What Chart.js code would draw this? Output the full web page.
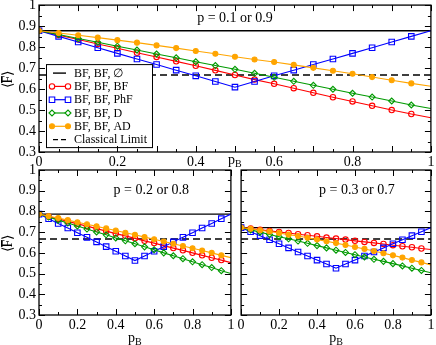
<!DOCTYPE html>
<html><head><meta charset="utf-8">
<script src="https://cdn.jsdelivr.net/npm/chart.js@4.4.1/dist/chart.umd.min.js"></script>
<style>
html,body{margin:0;padding:0;background:#fff;width:436px;height:345px;overflow:hidden}
.box{position:absolute}
</style></head><body>
<div class="box" style="left:0;top:0;width:436px;height:172px"><canvas id="c1"></canvas></div>
<div class="box" style="left:0;top:155px;width:236px;height:190px"><canvas id="c2"></canvas></div>
<div class="box" style="left:236px;top:155px;width:200px;height:190px"><canvas id="c3"></canvas></div>
<script>
// ---------- data ----------
const pB = [0,0.05,0.1,0.15,0.2,0.25,0.3,0.35,0.4,0.45,0.5,0.55,0.6,0.65,0.7,0.75,0.8,0.85,0.9,0.95,1];
const classicalLimit = 0.667;
const seriesNames = ['BF, BF, \u2205','BF, BF, BF','BF, BF, PhF','BF, BF, D','BF, BF, AD','Classical Limit'];
const panelTitles = ['p = 0.1 or 0.9','p = 0.2 or 0.8','p = 0.3 or 0.7'];
const xTickLabels = ['0','0.2','0.4','0.6','0.8','1'];

const p1_none = 0.878;
const p1_BF  = [0.878,0.857,0.836,0.815,0.794,0.773,0.753,0.732,0.711,0.689,0.667,0.645,0.625,0.604,0.582,0.561,0.541,0.520,0.500,0.481,0.463];
const p1_PhF = [0.878,0.851,0.824,0.797,0.770,0.743,0.717,0.690,0.663,0.636,0.609,0.636,0.663,0.690,0.717,0.743,0.770,0.797,0.824,0.851,0.878];
const p1_D   = [0.878,0.860,0.841,0.823,0.804,0.786,0.767,0.749,0.730,0.712,0.694,0.675,0.656,0.637,0.618,0.599,0.580,0.562,0.543,0.524,0.507];
const p1_AD  = [0.878,0.867,0.856,0.845,0.833,0.821,0.808,0.795,0.781,0.768,0.754,0.741,0.729,0.715,0.701,0.687,0.673,0.657,0.642,0.627,0.613];

const p2_none = 0.787;
const p2_BF  = [0.787,0.775,0.764,0.752,0.740,0.729,0.717,0.705,0.693,0.682,0.670,0.658,0.647,0.635,0.623,0.612,0.600,0.588,0.576,0.565,0.553];
const p2_PhF = [0.787,0.765,0.742,0.720,0.697,0.675,0.653,0.630,0.608,0.585,0.563,0.585,0.608,0.630,0.653,0.675,0.697,0.720,0.742,0.765,0.787];
const p2_D   = [0.787,0.773,0.758,0.744,0.730,0.715,0.701,0.687,0.672,0.658,0.644,0.629,0.615,0.600,0.586,0.572,0.557,0.543,0.529,0.514,0.500];
const p2_AD  = [0.787,0.777,0.768,0.758,0.748,0.738,0.728,0.718,0.708,0.697,0.687,0.676,0.666,0.655,0.644,0.633,0.622,0.611,0.600,0.588,0.577];

const p3_none = 0.722;
const p3_BF  = [0.722,0.717,0.711,0.706,0.701,0.696,0.690,0.685,0.680,0.674,0.669,0.664,0.658,0.653,0.648,0.643,0.637,0.632,0.627,0.621,0.616];
const p3_PhF = [0.722,0.702,0.683,0.663,0.644,0.624,0.604,0.585,0.565,0.546,0.526,0.546,0.565,0.585,0.604,0.624,0.644,0.663,0.683,0.702,0.722];
const p3_D   = [0.722,0.711,0.700,0.689,0.678,0.668,0.657,0.646,0.635,0.624,0.613,0.602,0.591,0.580,0.569,0.559,0.548,0.537,0.526,0.515,0.504];
const p3_AD  = [0.722,0.716,0.709,0.703,0.696,0.688,0.681,0.673,0.664,0.656,0.647,0.638,0.628,0.619,0.609,0.598,0.588,0.577,0.565,0.554,0.542];

// ---------- style ----------
const FONT = '"Liberation Serif","Times New Roman",serif';
const RED='#ff0000', BLUE='#0000ff', GREEN='#009a00', ORANGE='#ffa500';
const STY = {
  BF:  {color:RED,   style:'circle',  r:2.7, fill:'rgba(0,0,0,0)'},
  PhF: {color:BLUE,  style:'rect',    r:3.9, fill:'rgba(0,0,0,0)'},
  D:   {color:GREEN, style:'rectRot', r:3.0, fill:'rgba(0,0,0,0)'},
  AD:  {color:ORANGE,style:'circle',  r:2.5, fill:ORANGE}
};

function curve(vals, st, label, order){
  return {
    label, order,
    data: vals.map((v,i)=>({x:pB[i], y:v})),
    borderColor: st.color, borderWidth: 1.1,
    pointStyle: st.style,
    pointRadius: vals.map((v,i)=> i < vals.length-1 ? st.r : 0),
    pointBorderColor: st.color, pointBackgroundColor: st.fill, pointBorderWidth: 1.1,
    tension: 0, fill: false
  };
}
function flat(val, label, dash, order){
  return { label, order, data:[{x:0,y:val},{x:1,y:val}], borderColor:'#000', borderWidth:1.4,
    borderDash: dash, pointRadius:0, fill:false };
}
function datasets(none, bf, phf, d, ad){
  return [
    flat(none, seriesNames[0], [], 5),
    curve(bf, STY.BF, seriesNames[1], 3),
    curve(phf, STY.PhF, seriesNames[2], 2),
    curve(d, STY.D, seriesNames[3], 1),
    curve(ad, STY.AD, seriesNames[4], 0),
    flat(classicalLimit, seriesNames[5], [7,4], 4)
  ];
}

function fmt(v){ const r=Math.round(v*100)/100; return String(r); }

function drawMarker(ctx, style, x, y, r, color, fill){
  ctx.save(); ctx.strokeStyle=color; ctx.fillStyle=fill; ctx.lineWidth=1.1;
  ctx.beginPath();
  if(style==='circle'){ ctx.arc(x,y,r,0,Math.PI*2); }
  else if(style==='rect'){ const s=r*Math.SQRT1_2; ctx.rect(x-s,y-s,2*s,2*s); }
  else if(style==='rectRot'){ ctx.moveTo(x-r,y); ctx.lineTo(x,y-r); ctx.lineTo(x+r,y); ctx.lineTo(x,y+r); ctx.closePath(); }
  ctx.fill(); ctx.stroke(); ctx.restore();
}

function drawLegend(ctx, a){
  const bx=a.left+7, by=a.top+59, bw=106, bh=83;
  ctx.save();
  ctx.fillStyle='#fff'; ctx.fillRect(bx,by,bw,bh);
  ctx.strokeStyle='#000'; ctx.lineWidth=1; ctx.strokeRect(bx+0.5,by+0.5,bw,bh);
  const keys=[null,'BF','PhF','D','AD',null];
  ctx.font='12px '+FONT; ctx.textBaseline='middle'; ctx.textAlign='left';
  for(let i=0;i<6;i++){
    const yy = by+9+i*13.3;
    const x1=bx+6, x2=bx+22;
    ctx.save();
    if(i===0 || i===5){
      ctx.strokeStyle='#000'; ctx.lineWidth=1.4;
      if(i===5) ctx.setLineDash([5,3]);
      ctx.beginPath(); ctx.moveTo(x1+1,yy); ctx.lineTo(x2-2,yy); ctx.stroke();
    } else {
      const st=STY[keys[i]];
      ctx.strokeStyle=st.color; ctx.lineWidth=1.2;
      ctx.beginPath(); ctx.moveTo(x1,yy); ctx.lineTo(x2,yy); ctx.stroke();
      drawMarker(ctx, st.style, x1, yy, st.r, st.color, st.fill==='rgba(0,0,0,0)'?'#fff':st.fill);
      drawMarker(ctx, st.style, x2, yy, st.r, st.color, st.fill==='rgba(0,0,0,0)'?'#fff':st.fill);
    }
    ctx.restore();
    ctx.fillStyle='#000';
    ctx.fillText(seriesNames[i], bx+28, yy+0.5);
  }
  ctx.restore();
}

function drawPB(ctx, cx, cy){
  ctx.save(); ctx.fillStyle='#000'; ctx.textBaseline='middle'; ctx.textAlign='left';
  ctx.font='14px '+FONT; const w1=ctx.measureText('p').width;
  ctx.font='10px '+FONT; const w2=ctx.measureText('B').width;
  const s=cx-(w1+w2)/2;
  ctx.font='14px '+FONT; ctx.fillText('p', s, cy);
  ctx.font='10px '+FONT; ctx.fillText('B', s+w1, cy+4);
  ctx.restore();
}

function drawFTitle(ctx, x, y){
  ctx.save(); ctx.translate(x,y); ctx.rotate(-Math.PI/2);
  ctx.fillStyle='#000'; ctx.strokeStyle='#000'; ctx.textBaseline='middle'; ctx.textAlign='left';
  ctx.font='14px '+FONT;
  const wl=ctx.measureText('\u27E8').width, wf=ctx.measureText('F').width, wr=ctx.measureText('\u27E9').width;
  const s=-(wl+wf+wr)/2;
  ctx.fillText('\u27E8', s, 0);
  ctx.fillText('F', s+wl, 0);
  ctx.fillText('\u27E9', s+wl+wf, 0);
  ctx.lineWidth=1; ctx.beginPath(); ctx.moveTo(s+wl+0.5,-6.5); ctx.lineTo(s+wl+wf-0.5,-6.5); ctx.stroke();
  ctx.restore();
}

function deco(cfg){
  return { id:'deco', afterDraw(chart){
    const ctx=chart.ctx, a=chart.chartArea, X=chart.scales.x, Y=chart.scales.y;
    ctx.save();
    if(cfg.legend) drawLegend(ctx,a);
    ctx.strokeStyle='#000'; ctx.lineWidth=1;
    const seg=(x1,y1,x2,y2)=>{ctx.beginPath();ctx.moveTo(x1,y1);ctx.lineTo(x2,y2);ctx.stroke();};
    const nx=Math.round(1/cfg.xMinor);
    for(let i=0;i<=nx;i++){
      const px=Math.round(X.getPixelForValue(i*cfg.xMinor))+0.5;
      const L=(i%cfg.xRatio===0)?6:3;
      seg(px,a.bottom,px,a.bottom-L); seg(px,a.top,px,a.top+L);
    }
    for(let i=0;i<=14;i++){
      const py=Math.round(Y.getPixelForValue(0.3+i*0.05))+0.5;
      const L=(i%2===0)?6:3;
      seg(a.left,py,a.left+L,py); seg(a.right,py,a.right-L,py);
    }
    ctx.lineWidth=1.3;
    ctx.strokeRect(a.left,a.top,a.right-a.left,a.bottom-a.top);
    ctx.fillStyle='#000'; ctx.font='14px '+FONT; ctx.textAlign='center'; ctx.textBaseline='middle';
    ctx.fillText(cfg.title, X.getPixelForValue(cfg.tx), Y.getPixelForValue(cfg.ty));
    drawPB(ctx, X.getPixelForValue(0.5), a.bottom+cfg.pbDy);
    if(cfg.yTitle) drawFTitle(ctx, 8, (a.top+a.bottom)/2+1);
    ctx.restore();
  }};
}

function makeChart(id, ds, o){
  return new Chart(document.getElementById(id), {
    type:'line',
    data:{datasets:ds},
    options:{
      responsive:true, maintainAspectRatio:false, animation:false, devicePixelRatio:1,
      layout:{padding:{left:0,right:5,top:o.top,bottom:0}},
      plugins:{legend:{display:false}, tooltip:{enabled:false}},
      events:[],
      scales:{
        x:{type:'linear', min:0, max:1,
           grid:{display:false, drawTicks:false}, border:{display:false},
           ticks:{stepSize:o.xStep, autoSkip:false, maxRotation:0, padding:2, color:'#000',
                  font:{family:FONT,size:14}, callback:o.xcb},
           afterFit:(s)=>{s.height=o.xh; s.paddingLeft=0; s.paddingRight=0;}},
        y:{type:'linear', min:0.3, max:1,
           grid:{display:false, drawTicks:false}, border:{display:false},
           ticks:{stepSize:0.1, display:o.yLabels, padding:3, color:'#000',
                  font:{family:FONT,size:14}, callback:(v)=>fmt(v)},
           afterFit:(s)=>{s.width=o.yw; s.paddingTop=0; s.paddingBottom=0;}}
      }
    },
    plugins:[deco(o.deco)]
  });
}

const topXcb = (v)=>{ const k=Math.round(v*10); return k%2===0 ? xTickLabels[k/2] : ''; };
const botXcb = (v)=>{ const k=Math.round(v*5); return xTickLabels[k]; };

makeChart('c1', datasets(p1_none,p1_BF,p1_PhF,p1_D,p1_AD),
  {top:5, xh:20, yw:39, xStep:0.1, xcb:topXcb, yLabels:true,
   deco:{legend:true, xMinor:0.05, xRatio:2, title:panelTitles[0], tx:0.5, ty:0.938, pbDy:8, yTitle:true}});
makeChart('c2', datasets(p2_none,p2_BF,p2_PhF,p2_D,p2_AD),
  {top:15, xh:30, yw:39, xStep:0.2, xcb:botXcb, yLabels:true,
   deco:{legend:false, xMinor:0.1, xRatio:2, title:panelTitles[1], tx:0.585, ty:0.904, pbDy:23, yTitle:true}});
makeChart('c3', datasets(p3_none,p3_BF,p3_PhF,p3_D,p3_AD),
  {top:15, xh:30, yw:5, xStep:0.2, xcb:botXcb, yLabels:false,
   deco:{legend:false, xMinor:0.1, xRatio:2, title:panelTitles[2], tx:0.61, ty:0.904, pbDy:23, yTitle:false}});
</script>
</body></html>
